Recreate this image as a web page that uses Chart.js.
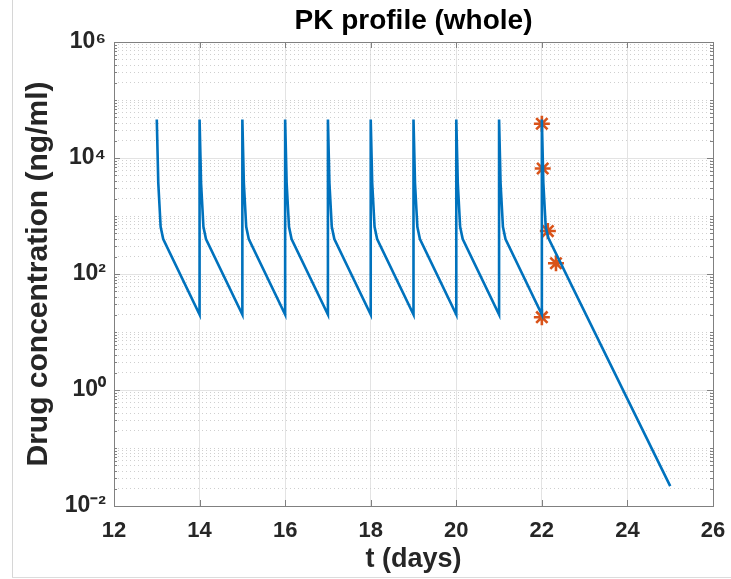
<!DOCTYPE html>
<html>
<head>
<meta charset="utf-8">
<title>PK profile</title>
<script src="https://cdn.jsdelivr.net/npm/chart.js@4/dist/chart.umd.min.js"></script>
<style>
  body { margin: 0; background: #fff; }
  #wrap { position: relative; width: 731px; height: 579px; }
  #edgeLeft { position: absolute; left: 12px; top: 0; width: 1px; height: 578px; background: #d6d6d6; }
  #edgeBottom { position: absolute; left: 12px; top: 577px; width: 719px; height: 1px; background: #dcdcdc; }
</style>
</head>
<body>
<div id="wrap">
  <canvas id="myChart" width="731" height="579"></canvas>
  <div id="edgeLeft"></div>
  <div id="edgeBottom"></div>
</div>
<script>
// concentration curve (days, ng/ml)
const tDays = [
    13, 13.035, 13.09, 13.15,
    14, 14, 14.035, 14.09, 14.15,
    15, 15, 15.035, 15.09, 15.15,
    16, 16, 16.035, 16.09, 16.15,
    17, 17, 17.035, 17.09, 17.15,
    18, 18, 18.035, 18.09, 18.15,
    19, 19, 19.035, 19.09, 19.15,
    20, 20, 20.035, 20.09, 20.15,
    21, 21, 21.035, 21.09, 21.15,
    22, 22, 22.035, 22.09, 22.15,
    25
];
const conc = [
    46000, 3700, 650, 400,
    20, 46000, 3700, 650, 400,
    20, 46000, 3700, 650, 400,
    20, 46000, 3700, 650, 400,
    20, 46000, 3700, 650, 400,
    20, 46000, 3700, 650, 400,
    20, 46000, 3700, 650, 400,
    20, 46000, 3700, 650, 400,
    20, 46000, 3700, 650, 400,
    20, 46000, 3700, 650, 420,
    0.022
];
// sampled points (orange asterisks)
const sampleDays = [22, 22.02, 22.14, 22.33, 22];
const sampleConc = [39000, 6600, 550, 153, 18];

const xTicks = [12, 14, 16, 18, 20, 22, 24, 26];
const yMajor = [1e-2, 1e0, 1e2, 1e4, 1e6];
const yMajorLabels = ['10\u207B\u00B2', '10\u2070', '10\u00B2', '10\u2074', '10\u2076'];

const textColor = '#262626';
const fontFam = '"Liberation Sans", Arial, Helvetica, sans-serif';

function majorIndex(v) {
    for (let i = 0; i < yMajor.length; i++) {
        if (Math.abs(Math.log10(v) - Math.log10(yMajor[i])) < 1e-6) return i;
    }
    return -1;
}

// MATLAB style box with inward ticks
const boxPlugin = {
    id: 'matlabBox',
    beforeDatasetsDraw(chart) {
        const a = chart.chartArea;
        const c = chart.ctx;
        const xs = chart.scales.x;
        const ys = chart.scales.y;
        c.save();
        c.strokeStyle = '#808080';
        c.lineWidth = 1;
        c.beginPath();
        xs.ticks.forEach(t => {
            const px = Math.round(xs.getPixelForValue(t.value)) + 0.5;
            c.moveTo(px, a.bottom); c.lineTo(px, a.bottom - 6);
            c.moveTo(px, a.top); c.lineTo(px, a.top + 6);
        });
        ys.ticks.forEach(t => {
            const py = Math.round(ys.getPixelForValue(t.value)) + 0.5;
            const len = majorIndex(t.value) >= 0 ? 6 : 3;
            c.moveTo(a.left, py); c.lineTo(a.left + len, py);
            c.moveTo(a.right, py); c.lineTo(a.right - len, py);
        });
        c.stroke();
        c.strokeRect(Math.round(a.left) + 0.5, Math.round(a.top) + 0.5,
            Math.round(a.right - a.left), Math.round(a.bottom - a.top));
        c.restore();
    }
};

function graficar() {
    let ctx = document.getElementById('myChart');
    const curve = tDays.map((t, i) => ({ x: t, y: conc[i] }));
    const samples = sampleDays.map((t, i) => ({ x: t, y: sampleConc[i] }));

    const data = {
        datasets: [{
            label: 'concentration',
            data: curve,
            borderColor: '#0072BD',
            borderWidth: 2.6,
            pointRadius: 0,
            tension: 0
        }, {
            label: 'samples',
            data: samples,
            showLine: false,
            pointStyle: 'star',
            pointRadius: 8,
            pointBorderWidth: 2.6,
            borderColor: '#D95319',
            backgroundColor: '#D95319'
        }]
    };

    const config = {
        type: 'line',
        data: data,
        plugins: [boxPlugin],
        options: {
            responsive: false,
            animation: false,
            layout: { padding: { left: 0, right: 18, top: 0, bottom: 0 } },
            plugins: {
                legend: { display: false },
                tooltip: { enabled: false }
            },
            scales: {
                x: {
                    type: 'linear',
                    position: 'bottom',
                    min: 12,
                    max: 26,
                    afterBuildTicks: (scale) => { scale.ticks = xTicks.map(v => ({ value: v })); },
                    afterFit: (scale) => {
                        scale.height = 73;
                        scale.paddingLeft = 0;
                        scale.paddingRight = 0;
                    },
                    ticks: {
                        color: textColor,
                        font: { family: fontFam, size: 22, weight: 'bold' },
                        padding: 12,
                        maxRotation: 0,
                        autoSkip: false
                    },
                    grid: { color: '#e3e3e3', lineWidth: 1, drawTicks: false },
                    border: { display: false },
                    title: {
                        display: true,
                        text: 't (days)',
                        color: textColor,
                        font: { family: fontFam, size: 27, weight: 'bold' },
                        padding: { top: 0, bottom: 3 }
                    }
                },
                xTop: {
                    type: 'linear',
                    position: 'top',
                    min: 12,
                    max: 26,
                    afterFit: (scale) => {
                        scale.height = 42;
                        scale.paddingLeft = 0;
                        scale.paddingRight = 0;
                    },
                    ticks: { display: false },
                    grid: { display: false, drawTicks: false },
                    border: { display: false },
                    title: {
                        display: true,
                        text: 'PK profile (whole)',
                        color: '#000',
                        font: { family: fontFam, size: 28, weight: 'bold' },
                        padding: { top: 4, bottom: 0 }
                    }
                },
                y: {
                    type: 'logarithmic',
                    position: 'left',
                    min: 1e-2,
                    max: 1e6,
                    afterBuildTicks: (scale) => {
                        const list = [];
                        for (let e = -2; e < 6; e++) {
                            for (let m = 1; m < 10; m++) list.push({ value: m * Math.pow(10, e) });
                        }
                        list.push({ value: 1e6 });
                        scale.ticks = list;
                    },
                    afterFit: (scale) => {
                        scale.width = 114;
                        scale.paddingTop = 0;
                        scale.paddingBottom = 0;
                    },
                    ticks: {
                        color: textColor,
                        font: { family: fontFam, size: 23, weight: 'bold' },
                        padding: 8,
                        autoSkip: false,
                        callback: (value) => {
                            const i = majorIndex(value);
                            return i >= 0 ? yMajorLabels[i] : '';
                        }
                    },
                    grid: {
                        drawTicks: false,
                        lineWidth: 1,
                        color: (c) => majorIndex(c.tick.value) >= 0 ? '#e3e3e3' : '#cfcfcf'
                    },
                    border: {
                        display: false,
                        dash: (c) => (c.tick && majorIndex(c.tick.value) < 0) ? [1, 3] : []
                    },
                    title: {
                        display: true,
                        text: 'Drug concentration (ng/ml)',
                        color: textColor,
                        font: { family: fontFam, size: 30, weight: 'bold' },
                        padding: { top: 21, bottom: 0 }
                    }
                }
            }
        }
    };
    new Chart(ctx, config);
}

graficar();
</script>
</body>
</html>
